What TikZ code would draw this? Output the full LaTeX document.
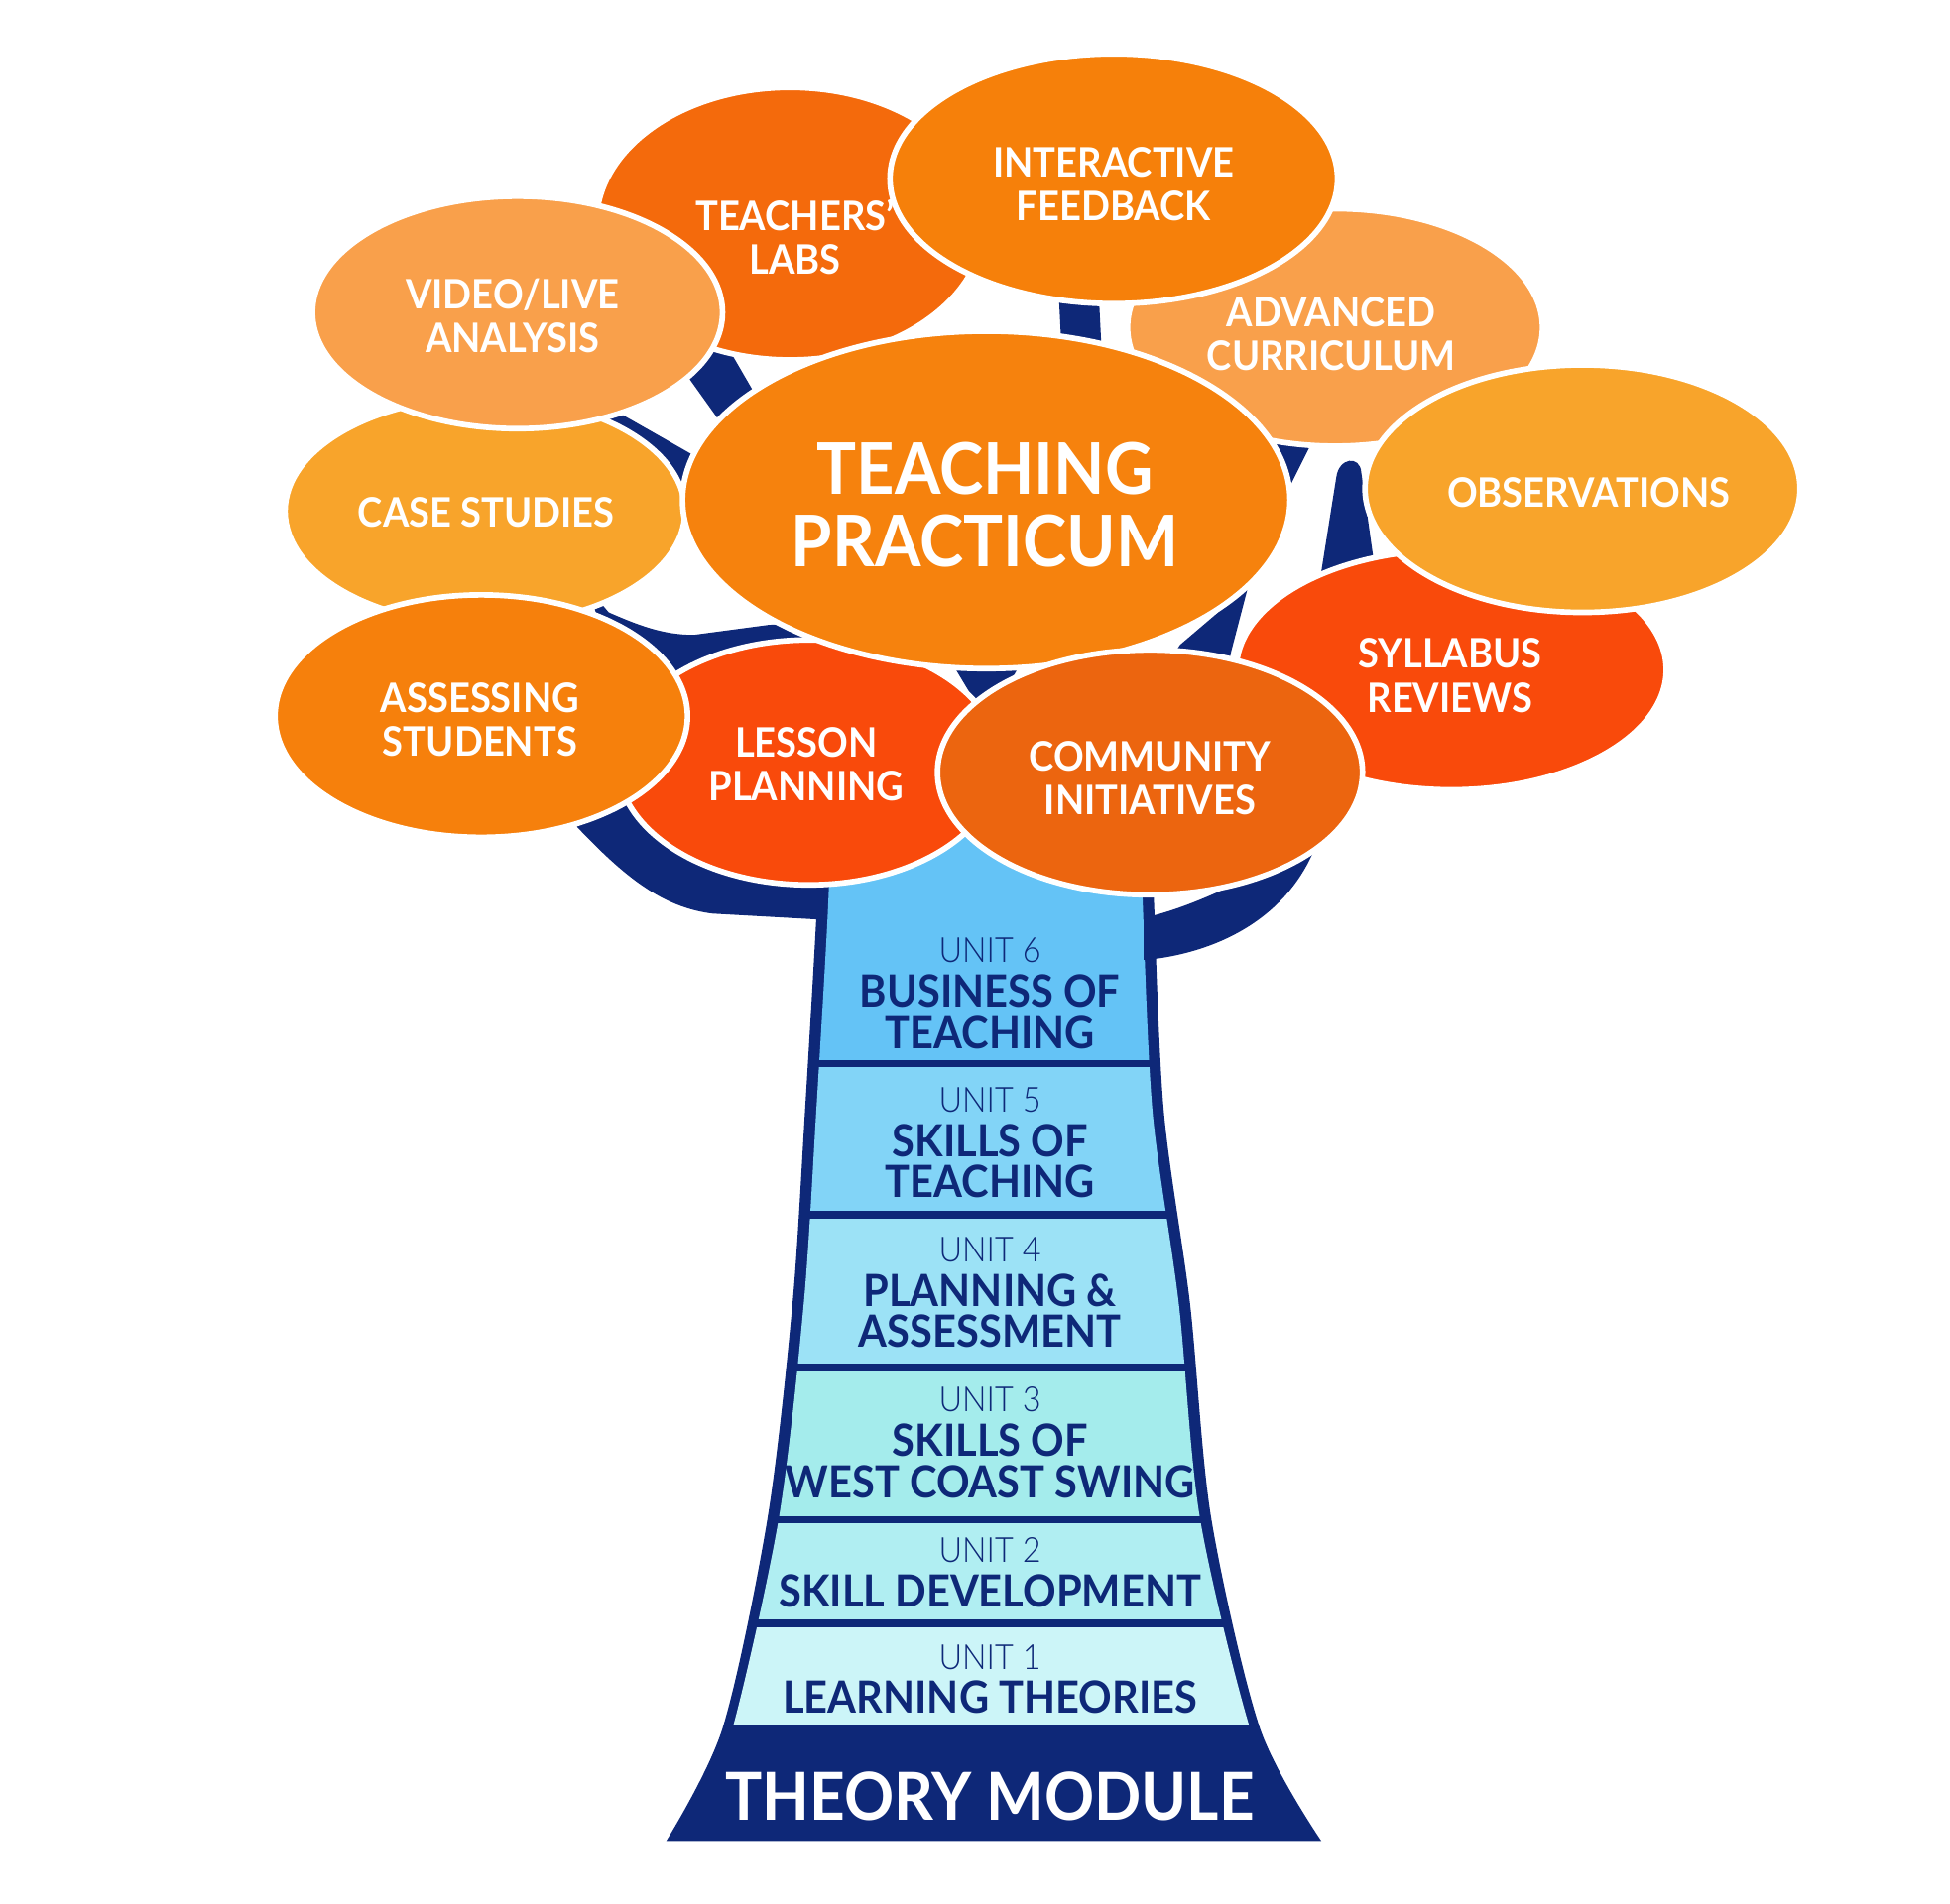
\documentclass[tikz,border=0pt]{standalone}
\usepackage{fontspec}
\setmainfont{Lato}[FakeStretch=0.93]
\newfontfamily\lightfont{Lato Light}[FakeStretch=0.93]
\usetikzlibrary{shapes.geometric}
\definecolor{navy}{RGB}{14,40,120}
\definecolor{cLabs}{RGB}{244,106,12}
\definecolor{cIF}{RGB}{246,128,10}
\definecolor{cVideo}{RGB}{249,160,75}
\definecolor{cAC}{RGB}{249,160,75}
\definecolor{cObs}{RGB}{248,164,43}
\definecolor{cCase}{RGB}{248,164,43}
\definecolor{cTP}{RGB}{246,130,13}
\definecolor{cSyl}{RGB}{249,74,11}
\definecolor{cAss}{RGB}{246,128,12}
\definecolor{cLes}{RGB}{249,74,11}
\definecolor{cCom}{RGB}{236,101,15}
\definecolor{uSix}{RGB}{100,195,246}
\definecolor{uFive}{RGB}{130,212,247}
\definecolor{uFour}{RGB}{156,226,246}
\definecolor{uThree}{RGB}{164,236,236}
\definecolor{uTwo}{RGB}{176,238,242}
\definecolor{uOne}{RGB}{204,245,248}
\begin{document}
\begin{tikzpicture}[x=1pt,y=-1pt,
  bub/.style 2 args={ellipse, draw=white, line width=4.5pt, minimum width=#1pt, minimum height=#2pt, inner sep=0pt},
  lbl/.style={text=white, font=\bfseries\fontsize{32.5}{35}\selectfont, align=center, inner sep=0pt},
  biglbl/.style={text=white, font=\bfseries\fontsize{57}{58}\selectfont, align=center, inner sep=0pt},
  unitnum/.style={text=navy, font=\lightfont\fontsize{27.7}{30}\selectfont, inner sep=0pt},
  unittitle/.style={text=navy, font=\bfseries\fontsize{35.5}{33}\selectfont, align=center, inner sep=0pt},
  basetitle/.style={text=white, font=\bfseries\fontsize{53}{54}\selectfont, inner sep=0pt},
  branch/.style={fill=navy}
]
\useasboundingbox (0,0) rectangle (1560,1523);
\fill[white] (0,0) rectangle (1560,1523);

% ---- trunk ----
\fill[navy] plot[smooth, tension=0.5] coordinates {(657,640) (653,735) (644,889) (634,1043) (614,1215) (578,1383) (533,1473)}
  -- plot[smooth, tension=0.5] coordinates {(1057,1473) (1008,1383) (969,1215) (952,1043) (931,889) (923,717) (921,640)} -- cycle;
\begin{scope}
\clip plot[smooth, tension=0.5] coordinates {(666,630) (662,735) (653,889) (643,1043) (623,1215) (586,1383) (560,1440)}
  -- plot[smooth, tension=0.5] coordinates {(1030,1440) (1000,1383) (960,1215) (943,1043) (922,889) (914,717) (912,630)} -- cycle;
\fill[uSix] (500,600) rectangle (1100,848);
\fill[uFive] (500,854) rectangle (1100,969);
\fill[uFour] (500,975) rectangle (1100,1091);
\fill[uThree] (500,1097) rectangle (1100,1213);
\fill[uTwo] (500,1219) rectangle (1100,1296);
\fill[uOne] (500,1302) rectangle (1100,1381);
\end{scope}

% ---- branches ----
\fill[branch] (440,620) -- (462,662) .. controls (500,702) and (530,726) .. (570,731) -- (660,736) -- (660,690) -- (520,640) -- cycle;
\fill[branch] (915,768) -- (926,767) .. controls (975,760) and (1030,735) .. (1053,676) -- (1040,650) -- (1000,690) -- (989,707) .. controls (970,716) and (945,727) .. (921,733) -- (915,740) -- cycle;
\fill[branch] (470,470) -- (487,490) .. controls (510,500) and (530,508) .. (555,508) -- (615,500) -- (650,498) -- (650,560) -- (500,560) -- cycle;
\fill[branch] (470,316) -- (600,390) -- (560,400) -- (470,340) -- cycle;
\fill[branch] (530,273) -- (573,262) -- (620,343) -- (590,357) -- cycle;
\fill[branch] (846,215) -- (878,215) -- (882,295) -- (850,295) -- cycle;
\fill[branch] (1000,345) -- (1053,347) -- (1022,409) -- (1000,400) -- cycle;
\fill[branch] (1055,470) -- (1069,382) .. controls (1071,366) and (1088,364) .. (1089,378) -- (1102,470) -- cycle;
\fill[branch] (925,545) -- (944,516) -- (998,470) -- (1003,452) -- (985,521) -- (980,545) -- cycle;
\fill[branch] (760,528) -- (818,528) -- (790,578) -- cycle;

% ---- bubbles ----
\node[bub={310}{218}, fill=cLabs] (labs) at (632,179) {};
\node[lbl] (labsT) at (636,189.5) {TEACHERS'\\LABS};
\node[bub={332}{190}, fill=cAC] (adv) at (1068,262) {};
\node[lbl] (advT) at (1065,267.5) {ADVANCED\\CURRICULUM};
\node[bub={320}{182}, fill=cCase] (case) at (388,409) {};
\node[lbl] (caseT) at (389,410) {CASE STUDIES};
\node[bub={344}{192}, fill=cSyl] (syl) at (1161,536) {};
\node[lbl] (sylT) at (1160,540.5) {SYLLABUS\\REVIEWS};
\node[bub={306}{196}, fill=cLes] (les) at (647,610) {};
\node[lbl] (lesT) at (645,611.5) {LESSON\\PLANNING};
\node[bub={358}{200}, fill=cIF] (intf) at (891,143) {};
\node[lbl] (intfT) at (891,147.5) {INTERACTIVE\\FEEDBACK};
\node[bub={328}{186}, fill=cVideo] (video) at (414,250) {};
\node[lbl] (videoT) at (410,253) {VIDEO/LIVE\\ANALYSIS};
\node[bub={348}{198}, fill=cObs] (obs) at (1266,391) {};
\node[lbl] (obsT) at (1271,394) {OBSERVATIONS};
\node[bub={486}{270}, fill=cTP] (tp) at (789,400) {};
\node[biglbl] (tpT) at (788,404) {TEACHING\\PRACTICUM};
\node[bub={330}{194}, fill=cAss] (ass) at (385,573) {};
\node[lbl] (assT) at (384,575.5) {ASSESSING\\STUDENTS};
\node[bub={340}{196}, fill=cCom] (com) at (920,618) {};
\node[lbl] (comT) at (920,622.5) {COMMUNITY\\INITIATIVES};

% ---- unit texts ----
\node[unitnum] (u6n) at (792,760) {UNIT 6};
\node[unittitle] (u6t) at (792,809.5) {BUSINESS OF\\TEACHING};
\node[unitnum] (u5n) at (792,880) {UNIT 5};
\node[unittitle] (u5t) at (792,929) {SKILLS OF\\TEACHING};
\node[unitnum] (u4n) at (792,1000) {UNIT 4};
\node[unittitle] (u4t) at (792,1049) {PLANNING \&\\ASSESSMENT};
\node[unitnum] (u3n) at (792,1120) {UNIT 3};
\node[unittitle] (u3t) at (792,1169) {SKILLS OF\\WEST COAST SWING};
\node[unitnum] (u2n) at (792,1240) {UNIT 2};
\node[unittitle] (u2t) at (792,1273) {SKILL DEVELOPMENT};
\node[unitnum] (u1n) at (792,1326) {UNIT 1};
\node[unittitle] (u1t) at (792,1358) {LEARNING THEORIES};
\node[basetitle] (base) at (792,1437) {THEORY MODULE};
\end{tikzpicture}
\end{document}
